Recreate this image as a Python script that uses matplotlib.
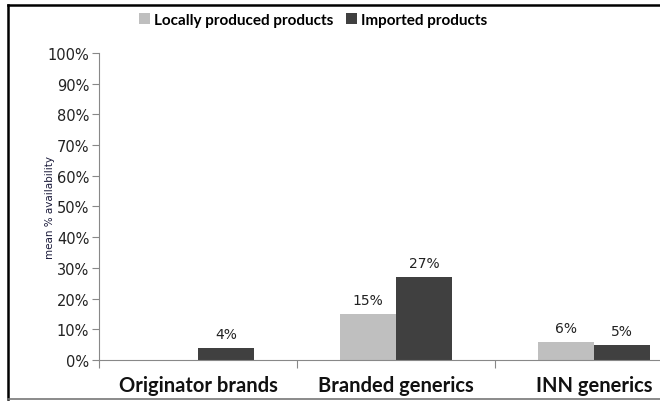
import matplotlib.pyplot as plt
from matplotlib.lines import Line2D
import numpy as np

categories = ["Originator brands", "Branded generics", "INN generics"]
local = [0, 15, 6]
imported = [4, 27, 5]
series_names = ["Locally produced products", "Imported products"]
label_local = ["", "15%", "6%"]
label_imported = ["4%", "27%", "5%"]

c_local = "#bfbfbf"
c_imp = "#404040"

fig = plt.figure(figsize=(6.6, 4.02), dpi=100)
ax = fig.add_axes([0.15, 0.102, 0.85, 0.764])

x = np.arange(len(categories))
w = 0.283
ax.bar(x - w / 2, local, w, color=c_local, label=series_names[0])
ax.bar(x + w / 2, imported, w, color=c_imp, label=series_names[1])

for xi, v, t in zip(x - w / 2, local, label_local):
    if t:
        ax.text(xi, v + 2.2, t, ha="center", va="bottom", fontsize=10, color="#222")
for xi, v, t in zip(x + w / 2, imported, label_imported):
    ax.text(xi, v + 2.2, t, ha="center", va="bottom", fontsize=10, color="#222")

ax.set_xlim(-0.5, 2.333)
ax.set_ylim(0, 100)
ax.set_yticks(range(0, 101, 10))
ax.set_yticklabels([f"{v}%" for v in range(0, 101, 10)], fontsize=10.5, color="#222")
ax.set_xticks([-0.5, 0.5, 1.5])
ax.set_xticklabels([])
ax.set_xticks(x, minor=True)
ax.set_xticklabels(categories, minor=True, fontsize=14.5, fontweight="bold",
                   family="Lato", color="#111")
ax.tick_params(axis="x", which="minor", length=0, pad=11)
ax.tick_params(axis="x", which="major", length=6, color="#888")
ax.tick_params(axis="y", length=5, color="#888", pad=2)

for s in ["top", "right"]:
    ax.spines[s].set_visible(False)
for s in ["left", "bottom"]:
    ax.spines[s].set_color("#888")

ax.set_ylabel("mean % availability", fontsize=7.5, color="#1a1a3a")
ax.yaxis.set_label_coords(-0.078, 0.5)

fig.legend(loc="upper left", bbox_to_anchor=(0.19, 1.0), ncol=2, frameon=False,
           prop={"family": "Lato", "weight": "bold", "size": 11},
           handlelength=0.7, handleheight=0.7, handletextpad=0.3, columnspacing=0.8)

# outer frame of the original figure box
fx = 8 / 660
fig.add_artist(Line2D([fx, fx], [2 / 402, 396 / 402], transform=fig.transFigure,
                      color="black", lw=1.8))
fig.add_artist(Line2D([fx, 1], [396 / 402, 396 / 402], transform=fig.transFigure,
                      color="black", lw=1.8))
fig.add_artist(Line2D([fx, 1], [2 / 402, 2 / 402], transform=fig.transFigure,
                      color="#777", lw=1.2))

fig.savefig("out.png", dpi=100)
